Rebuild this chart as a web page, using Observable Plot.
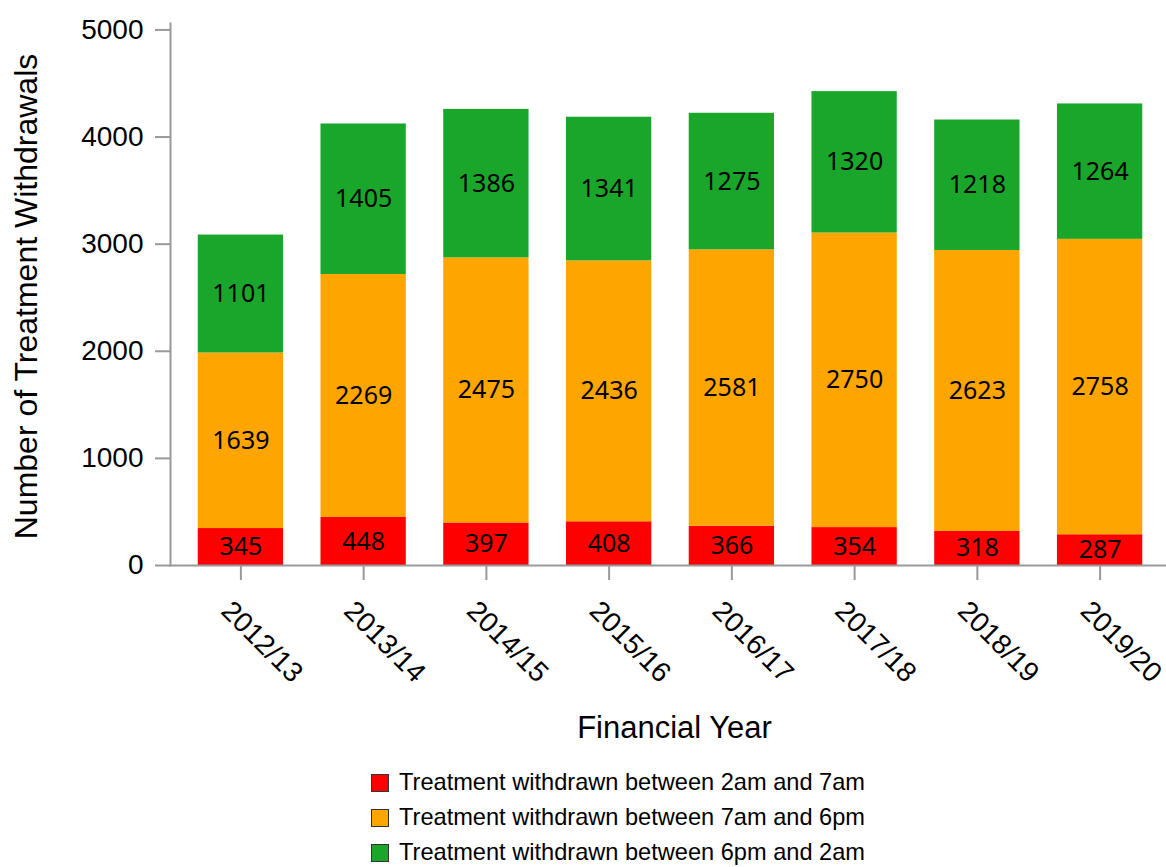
<!DOCTYPE html>
<html><head><meta charset="utf-8">
<script src="https://cdn.jsdelivr.net/npm/d3@7"></script>
<script src="https://cdn.jsdelivr.net/npm/@observablehq/plot@0.6"></script>
<style>
body{margin:0;background:#fff;font-family:"Liberation Sans",Arial,sans-serif}
#legend{margin-left:371px;margin-top:5px}
.row{display:flex;align-items:center;height:35px;font-size:23.6px;color:#000}
.sw{width:16px;height:16px;border:1px solid #333;margin-right:10px;box-sizing:content-box}
</style></head><body><div id="chart"></div><div id="legend"></div>
<script>
const years = ["2012/13","2013/14","2014/15","2015/16","2016/17","2017/18","2018/19","2019/20"];
const series = ["Treatment withdrawn between 2am and 7am","Treatment withdrawn between 7am and 6pm","Treatment withdrawn between 6pm and 2am"];
const colors = ["#ff0000","#ffa500","#19a62b"];
const early = [345,448,397,408,366,354,318,287];
const day = [1639,2269,2475,2436,2581,2750,2623,2758];
const night = [1101,1405,1386,1341,1275,1320,1218,1264];
const yTicks = [0,1000,2000,3000,4000,5000];
const xTitle = "Financial Year";
const yTitle = "Number of Treatment Withdrawals";

const valuesBySeries = [early, day, night];
const data = years.flatMap((yr,i) => series.map((s,j) => ({year: yr, series: s, value: valuesBySeries[j][i]})));

const gray = "#999";
const chart = Plot.plot({
  width: 1166, height: 760,
  marginLeft: 170, marginRight: 0, marginTop: 23, marginBottom: 195,
  style: {fontFamily: '"Liberation Sans",Arial,sans-serif', background: "white", overflow: "visible"},
  x: {domain: years, range: [170, 1170], paddingInner: 0.305, paddingOuter: 0.226, round: false},
  y: {domain: [0, 5060]},
  color: {domain: series, range: colors},
  marks: [
    Plot.barY(data, {x: "year", y: "value", fill: "series", z: "series"}),
    Plot.text(data, Plot.stackY({x: "year", y: "value", z: "series", text: d => String(d.value), fontSize: 25, fontFamily: "Noto Sans", fill: "black"})),
    Plot.axisY({ticks: yTicks, tickFormat: d3.format("d"), tickSize: 15, tickPadding: 12, fontSize: 28, stroke: gray, strokeWidth: 2, fill: "black", label: null}),
    Plot.axisX({tickSize: 15, tickFormat: () => "", stroke: gray, strokeWidth: 2, label: null}),
    Plot.axisX({tickSize: 0, tickRotate: 45, tickPadding: 33, dx: -7, fontSize: 28, textAnchor: "start", lineAnchor: "top", fill: "black", label: null}),
    Plot.frame({anchor: "left", stroke: gray, strokeWidth: 2}),
    Plot.frame({anchor: "bottom", stroke: gray, strokeWidth: 2}),
    Plot.text([yTitle], {frameAnchor: "left", rotate: -90, dx: -144, dy: 2, textAnchor: "middle", lineAnchor: "middle", fontSize: 32, fill: "black"}),
    Plot.text([xTitle], {frameAnchor: "bottom", dy: 163, dx: 6, textAnchor: "middle", lineAnchor: "middle", fontSize: 31, fill: "black"})
  ]
});
document.getElementById("chart").appendChild(chart);

const legend = document.getElementById("legend");
series.forEach((s,i) => {
  const row = document.createElement("div"); row.className = "row";
  const sw = document.createElement("div"); sw.className = "sw"; sw.style.background = colors[i];
  const t = document.createElement("span"); t.textContent = s;
  row.appendChild(sw); row.appendChild(t); legend.appendChild(row);
});
</script></body></html>
